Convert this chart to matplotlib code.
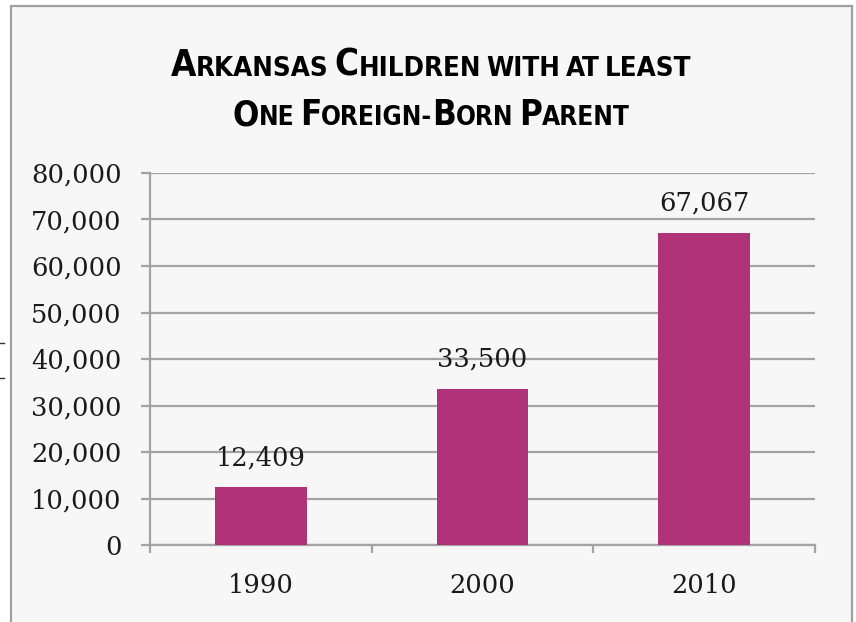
import matplotlib
matplotlib.use("Agg")
import matplotlib.pyplot as plt
from matplotlib.patches import Rectangle
from matplotlib.lines import Line2D
from matplotlib.ticker import FuncFormatter
from matplotlib import font_manager as fm

# ---- data ----
years = ["1990", "2000", "2010"]
children = [12409, 33500, 67067]
y_ticks = [0, 10000, 20000, 30000, 40000, 50000, 60000, 70000, 80000]
# title words as (segment, is_big_capital) pieces (small-caps look)
title_line1 = [[("A", True), ("RKANSAS", False)],
               [("C", True), ("HILDREN", False)],
               [("WITH", False)], [("AT", False)], [("LEAST", False)]]
title_line2 = [[("O", True), ("NE", False)],
               [("F", True), ("OREIGN-", False), ("B", True), ("ORN", False)],
               [("P", True), ("ARENT", False)]]

W, H = 856, 622
BAR_COLOR = "#b03278"
GRID = "#a3a3a3"
TXT = "#1a1a1a"
NUM_FONT = "DejaVu Serif"


def find_title_font():
    best = None
    for f in fm.fontManager.ttflist:
        narrow = ("Narrow" in f.name or "Condensed" in f.name
                  or "condensed" in str(f.stretch) or "narrow" in f.fname.lower()
                  or "condensed" in f.fname.lower())
        if not narrow:
            continue
        w = f.weight if isinstance(f.weight, int) else (700 if "bold" in str(f.weight) else 400)
        score = (w >= 600) * 10 + ("italic" not in f.style and "oblique" not in f.style) * 20
        if best is None or score > best[0]:
            best = (score, f.fname)
    return best[1] if best else None


TITLE_FNAME = find_title_font()


def title_props(size):
    if TITLE_FNAME:
        return fm.FontProperties(fname=TITLE_FNAME, size=size, weight="bold")
    return fm.FontProperties(family="DejaVu Sans", size=size, weight="bold")


fig = plt.figure(figsize=(W / 100, H / 100), dpi=100, facecolor="white")

# chart frame
fig.patches.append(Rectangle((11 / W, -0.1), (852 - 11) / W, 1 - 6 / H + 0.1,
                             transform=fig.transFigure, facecolor="#f7f7f7",
                             edgecolor="#a0a0a0", lw=1.6, zorder=-5))
# small marks at the left edge outside the frame
for yp in (343, 378):
    fig.add_artist(Line2D([0, 4 / W], [1 - yp / H, 1 - yp / H],
                          transform=fig.transFigure, color="#333333", lw=1))

ax = fig.add_axes([150 / W, 1 - 545 / H, (815 - 150) / W, (545 - 173) / H])
ax.set_facecolor("none")

x = list(range(len(years)))
bars = ax.bar(x, children, width=0.415, color=BAR_COLOR, zorder=3)

for xi, v in zip(x, children):
    ax.annotate(f"{v:,}", (xi, v), xytext=(0, 16), textcoords="offset points",
                ha="center", va="baseline", fontsize=18.5, family=NUM_FONT,
                color=TXT)

ax.set_xlim(-0.5, len(years) - 0.5)
ax.set_ylim(0, 80000)
ax.set_yticks(y_ticks)
ax.yaxis.set_major_formatter(FuncFormatter(lambda v, p: f"{v:,.0f}"))
ax.yaxis.grid(True, color=GRID, lw=1.6)
ax.set_axisbelow(True)

ax.set_xticks([i - 0.5 for i in range(len(years) + 1)])
ax.set_xticklabels([])
ax.set_xticks(x, minor=True)
ax.set_xticklabels(years, minor=True)

for s in ["top", "right"]:
    ax.spines[s].set_visible(False)
for s in ["left", "bottom"]:
    ax.spines[s].set_color(GRID)
    ax.spines[s].set_linewidth(1.6)

ax.tick_params(axis="y", length=6.5, width=1.6, color=GRID, pad=14,
               labelsize=18.5, labelcolor=TXT)
ax.tick_params(axis="x", which="major", length=5.5, width=1.6, color=GRID)
ax.tick_params(axis="x", which="minor", length=0, pad=20,
               labelsize=18.5, labelcolor=TXT)
for lab in ax.get_yticklabels() + ax.get_xticklabels(minor=True):
    lab.set_family(NUM_FONT)

# ---- title with emulated small caps ----
renderer = fig.canvas.get_renderer()
BIG_RATIO = 1.33


def draw_line(words, cx_px, base_px, target_w):
    ref = 30.0

    def build(small):
        items = []
        for w in words:
            witems = []
            for seg, big in w:
                size = small * BIG_RATIO if big else small
                t = fig.text(0, 0, seg, fontproperties=title_props(size),
                             color="black", va="baseline", ha="left")
                witems.append((t, t.get_window_extent(renderer).width))
            items.append(witems)
        return items

    items = build(ref)
    gap = 0.2 * ref * 100 / 72
    total = sum(wd for w in items for _, wd in w) + gap * (len(items) - 1)
    scale = target_w / total
    for w in items:
        for t, _ in w:
            t.remove()
    small = ref * scale
    items = build(small)
    gap = 0.2 * small * 100 / 72
    total = sum(wd for w in items for _, wd in w) + gap * (len(items) - 1)
    xp = cx_px - total / 2
    for w in items:
        for t, wd in w:
            t.set_position((xp / W, 1 - base_px / H))
            xp += wd
        xp += gap


draw_line(title_line1, 431, 76, 520)
draw_line(title_line2, 431, 125, 398)

fig.savefig("out.png", dpi=100, facecolor="white")
